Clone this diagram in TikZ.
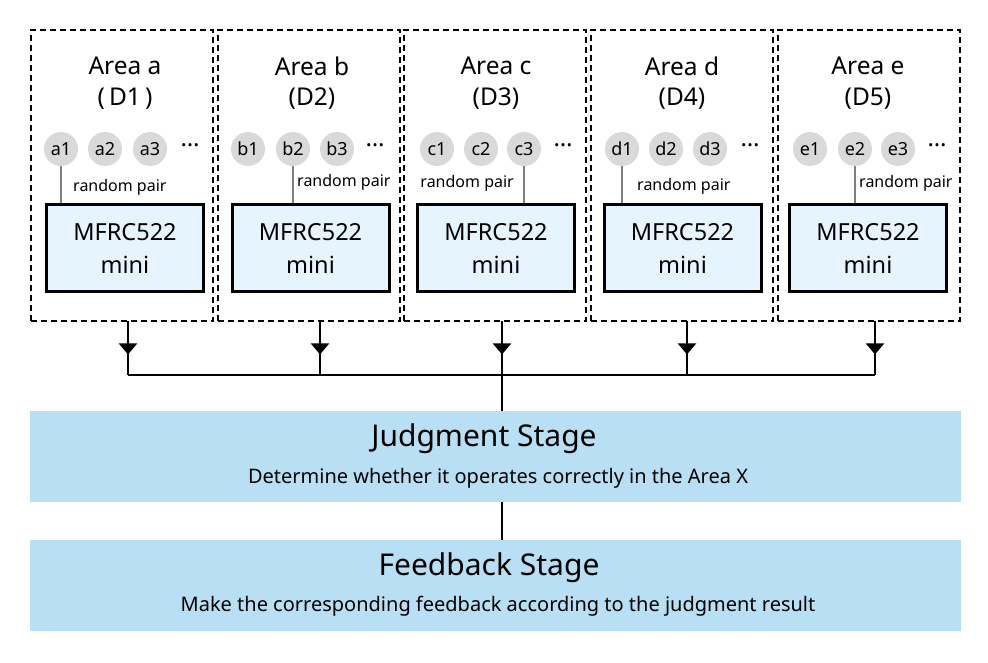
\documentclass[tikz,border=0pt]{standalone}
\usepackage{fontspec}
\setmainfont{Noto Sans}
\usetikzlibrary{arrows.meta,decorations.markings}
\definecolor{stageblue}{HTML}{B8DFF3}
\definecolor{readerblue}{HTML}{E6F4FD}
\definecolor{taggray}{HTML}{D9D9D9}
\tikzset{>=stealth,
  area/.style={draw,line width=2pt,dash pattern=on 6pt off 4pt,inner sep=0pt,
    minimum width=182pt,minimum height=291pt},
  areatitle/.style={font=\fontsize{24.5}{28}\selectfont},
  tag/.style={circle,fill=taggray,inner sep=0pt,minimum size=34pt,
    font=\fontsize{18}{20}\selectfont},
  tagdots/.style={font=\fontsize{24}{26}\selectfont},
  reader/.style={draw,line width=3pt,fill=readerblue,align=center,inner sep=0pt,
    minimum width=157pt,minimum height=86pt,font=\fontsize{23.5}{33}\selectfont},
  pair/.style={draw=black!50,line width=2pt},
  pairlbl/.style={font=\fontsize{16}{18}\selectfont,inner sep=0pt},
  wire/.style={line width=2pt},
  flow/.style={line width=2pt,decoration={markings,
    mark=at position 0.62 with {\arrow{Triangle[width=18pt,length=11pt]}}},
    postaction={decorate}},
  stage/.style={fill=stageblue,inner sep=0pt,minimum width=931pt,minimum height=91pt},
  stagetitle/.style={font=\fontsize{30}{34}\selectfont},
  stagetext/.style={font=\fontsize{20}{22}\selectfont}}

\begin{document}
\begin{tikzpicture}[x=1pt,y=-1pt]
\useasboundingbox (0,0) rectangle (988,663);
% area a
\node[area] (areaA) at (122,175.5) {};
\node[areatitle] (titleA) at (125,66) {Area a};
\node[areatitle] (idA) at (125,99) {(\,D1\,)};
\node[tag] (a1) at (61,149) {a1};
\node[tag] (a2) at (105,149) {a2};
\node[tag] (a3) at (150,149) {a3};
\node[tagdots] (adots) at (190,145) {\dots};
\node[reader] (readerA) at (125,248) {MFRC522\\mini};
\draw[pair] (a1) -- (a1 |- readerA.north);
\node[pairlbl,anchor=west] (pairA) at (73,187) {random pair};
% area b
\node[area] (areaB) at (309,175.5) {};
\node[areatitle] (titleB) at (312,66) {Area b};
\node[areatitle] (idB) at (312,99) {(D2)};
\node[tag] (b1) at (248,149) {b1};
\node[tag] (b2) at (293,149) {b2};
\node[tag] (b3) at (337,149) {b3};
\node[tagdots] (bdots) at (375,145) {\dots};
\node[reader] (readerB) at (310.5,248) {MFRC522\\mini};
\draw[pair] (b2) -- (b2 |- readerB.north);
\node[pairlbl,anchor=west] (pairB) at (297,182) {random pair};
% area c
\node[area] (areaC) at (495,175.5) {};
\node[areatitle] (titleC) at (496,66) {Area c};
\node[areatitle] (idC) at (496,99) {(D3)};
\node[tag] (c1) at (437,149) {c1};
\node[tag] (c2) at (481,149) {c2};
\node[tag] (c3) at (524,149) {c3};
\node[tagdots] (cdots) at (563,145) {\dots};
\node[reader] (readerC) at (496,248) {MFRC522\\mini};
\draw[pair] (c3) -- (c3 |- readerC.north);
\node[pairlbl,anchor=east] (pairC) at (514,183) {random pair};
% area d
\node[area] (areaD) at (682,175.5) {};
\node[areatitle] (titleD) at (682,66) {Area d};
\node[areatitle] (idD) at (682,99) {(D4)};
\node[tag] (d1) at (622,149) {d1};
\node[tag] (d2) at (666,149) {d2};
\node[tag] (d3) at (710,149) {d3};
\node[tagdots] (ddots) at (750,145) {\dots};
\node[reader] (readerD) at (682.5,248) {MFRC522\\mini};
\draw[pair] (d1) -- (d1 |- readerD.north);
\node[pairlbl,anchor=west] (pairD) at (637,186) {random pair};
% area e
\node[area] (areaE) at (869,175.5) {};
\node[areatitle] (titleE) at (868,66) {Area e};
\node[areatitle] (idE) at (868,99) {(D5)};
\node[tag] (e1) at (810,149) {e1};
\node[tag] (e2) at (855,149) {e2};
\node[tag] (e3) at (898,149) {e3};
\node[tagdots] (edots) at (937,145) {\dots};
\node[reader] (readerE) at (868,248) {MFRC522\\mini};
\draw[pair] (e2) -- (e2 |- readerE.north);
\node[pairlbl,anchor=west] (pairE) at (859,183) {random pair};
% stages
\node[stage] (judge) at (495.5,456.5) {};
\node[stagetitle] (judgeT) at (484,439) {Judgment Stage};
\node[stagetext] (judgeS) at (498,478) {Determine whether it operates correctly in the Area X};
\node[stage] (feed) at (495.5,585.5) {};
\node[stagetitle] (feedT) at (489,568) {Feedback Stage};
\node[stagetext] (feedS) at (498,606) {Make the corresponding feedback according to the judgment result};
% collecting lines
\coordinate (hub) at (502,375);
\coordinate (outA) at (128,321);
\coordinate (outB) at (320,321);
\coordinate (outC) at (502,321);
\coordinate (outD) at (687,321);
\coordinate (outE) at (875,321);
\draw[flow] (outA) -- (outA |- hub);
\draw[flow] (outB) -- (outB |- hub);
\draw[flow] (outC) -- (outC |- hub);
\draw[flow] (outD) -- (outD |- hub);
\draw[flow] (outE) -- (outE |- hub);
\draw[wire] (outA |- hub) -- (outE |- hub);
\draw[wire] (hub) -- (hub |- judge.north);
\draw[wire] (hub |- judge.south) -- (hub |- feed.north);
\end{tikzpicture}
\end{document}
